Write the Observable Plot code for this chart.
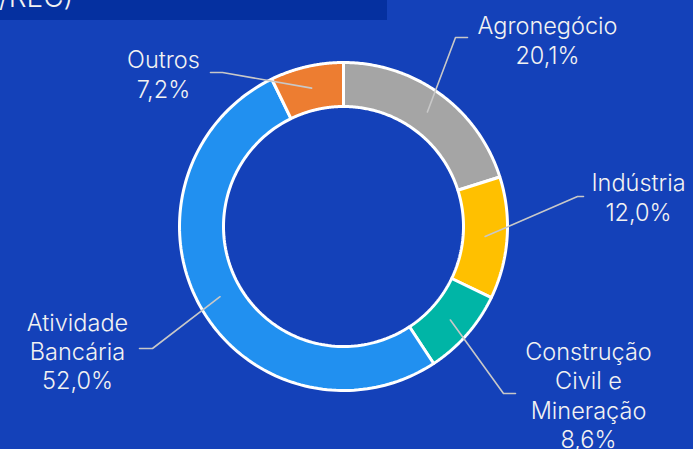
<!DOCTYPE html>
<html>
<head>
<meta charset="utf-8">
<script src="https://cdn.jsdelivr.net/npm/d3@7"></script>
<script src="https://cdn.jsdelivr.net/npm/@observablehq/plot@0.6"></script>
<style>
  html, body { margin: 0; padding: 0; background: #1441B9; overflow: hidden; }
  #wrap { position: relative; width: 693px; height: 449px; }
  #topbox { position: absolute; left: 0; top: 0; width: 387px; height: 20px; background: #0530A0; overflow: hidden; }
  #topbox span { position: absolute; left: -1px; top: -20px; font-family: Inter, sans-serif; font-weight: 300; font-size: 28px; color: #F2F2F2; white-space: nowrap; }
</style>
</head>
<body>
<div id="wrap">
  <div id="chart"></div>
  <div id="topbox"><span>/REC)</span></div>
</div>
<script>
// ---- data ----
const categories = ["Agronegócio", "Indústria", "Construção Civil e Mineração", "Atividade Bancária", "Outros"];
const shares = [20.1, 12.0, 8.6, 52.0, 7.2];
const shareLabels = ["20,1%", "12,0%", "8,6%", "52,0%", "7,2%"];
const nameLabels = ["Agronegócio", "Indústria", "Construção\nCivil e\nMineração", "Atividade\nBancária", "Outros"];
const sliceColors = ["#A5A5A5", "#FFC000", "#00B5A6", "#2190F0", "#ED7D31"];

// ---- layout (pixels relative to donut centre) ----
const outerR = 164, innerR = 120, leaderR = 142;
const elbowX = [112, 234, 160, -191, -121];
const elbowY = [-189, -30, 167, 122, -154];
const endX = [124, 240, 172, -204, -133];
const textX = [204, 295, 245, -266, -180];
const textY = [-187, -30, 168, 124, -153];

const total = d3.sum(shares);
let cum = 0;
const slices = categories.map((c, i) => {
  const a0 = 2 * Math.PI * cum / total;
  cum += shares[i];
  const a1 = 2 * Math.PI * cum / total;
  return {c, i, a0, a1, mid: (a0 + a1) / 2};
});

const N = 120;
const polyPts = [];
for (const s of slices) {
  const pts = [];
  for (let k = 0; k <= N; k++) {
    const a = s.a0 + (s.a1 - s.a0) * k / N;
    pts.push({x: outerR * Math.sin(a), y: -outerR * Math.cos(a)});
  }
  for (let k = N; k >= 0; k--) {
    const a = s.a0 + (s.a1 - s.a0) * k / N;
    pts.push({x: innerR * Math.sin(a), y: -innerR * Math.cos(a)});
  }
  pts.push(pts[0]);
  for (const p of pts) polyPts.push({...p, c: s.c, color: sliceColors[s.i]});
}

const leaderPts = [];
for (const s of slices) {
  leaderPts.push({c: s.c, x: leaderR * Math.sin(s.mid), y: -leaderR * Math.cos(s.mid)});
  leaderPts.push({c: s.c, x: elbowX[s.i], y: elbowY[s.i]});
  leaderPts.push({c: s.c, x: endX[s.i], y: elbowY[s.i]});
}

const labels = slices.map(s => ({x: textX[s.i], y: textY[s.i], t: nameLabels[s.i] + "\n" + shareLabels[s.i]}));

const chart = Plot.plot({
  width: 693,
  height: 449,
  margin: 0,
  x: {domain: [-343, 350], range: [0, 693], axis: null},
  y: {domain: [-226, 223], range: [0, 449], axis: null},
  style: {background: "transparent", overflow: "visible"},
  marks: [
    Plot.line(polyPts, {x: "x", y: "y", z: "c", fill: "color", stroke: "#FFFFFF", strokeWidth: 3, strokeLinejoin: "miter", curve: "linear"}),
    Plot.line(leaderPts, {x: "x", y: "y", z: "c", stroke: "#C8C8C8", strokeWidth: 1.6, curve: "linear"}),
    Plot.text(labels, {x: "x", y: "y", text: "t", fill: "#F2F2F2", fontSize: 23.5, fontWeight: 300, fontFamily: "Inter, sans-serif", lineHeight: 1.25, lineAnchor: "middle", textAnchor: "middle"})
  ]
});
document.getElementById("chart").appendChild(chart);
</script>
</body>
</html>
